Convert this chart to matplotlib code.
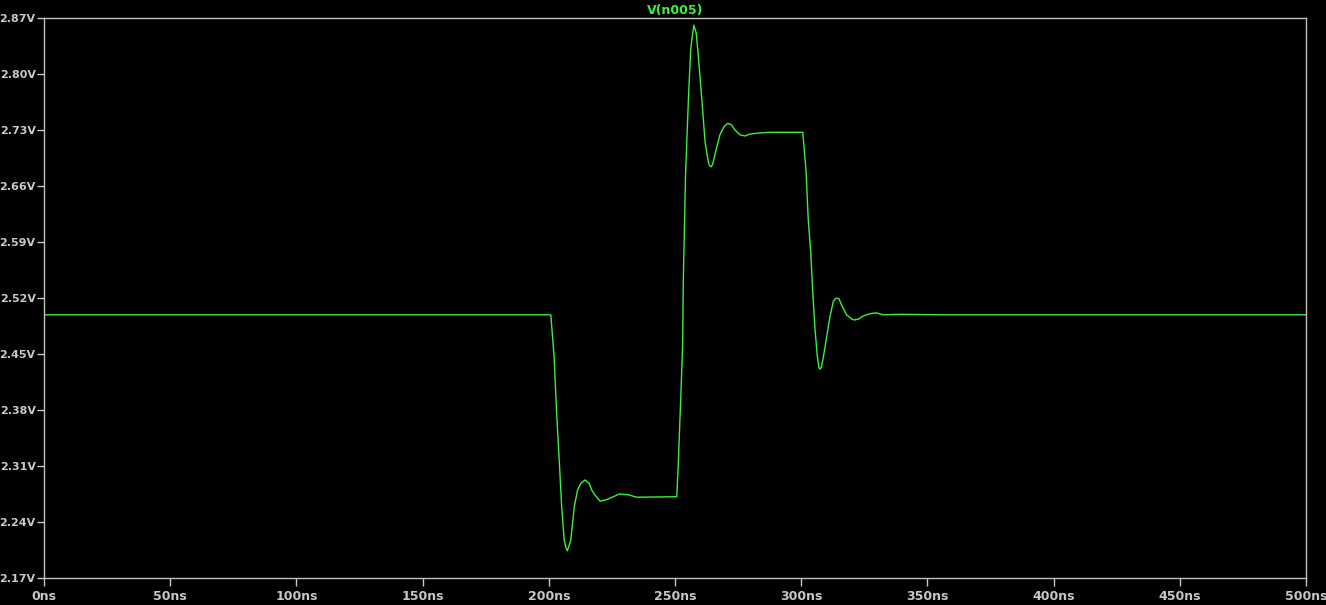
# Transient plot of node n005, redrawn in the LTspice waveform viewer look.
import matplotlib
matplotlib.use('Agg')
import matplotlib.pyplot as plt
import numpy as np

# time points (ns) and voltage (V)
time_ns = [0, 200.0, 200.8, 202.1, 203.1, 204.2, 205.1, 206.1, 206.7, 207.3,
           207.9, 208.7, 210.1, 211.4, 212.7, 214.3, 216.0, 217.0, 218.3, 220.3,
           222.3, 224.2, 226.2, 227.9, 231.5, 234.8, 250.7,
           251.3, 252.3, 253.0, 253.3, 253.8, 254.2, 255.3, 256.2, 257.0, 257.5,
           258.4, 259.2, 260.6, 261.9, 263.2, 263.6, 264.3, 264.9, 265.8, 267.8,
           269.4, 270.5, 271.4, 272.5, 273.8, 275.7, 277.8, 279.3,
           282.4, 287.6, 300.6, 301.9, 302.8, 303.8, 304.6, 305.5, 306.4, 307.0,
           307.4, 308.0, 308.8, 310.1, 311.4, 312.7, 313.6, 314.3, 315.0, 316.0,
           318.0, 320.3, 321.0, 322.9, 324.0, 326.0, 328.2, 329.9,
           332.5, 339.8, 357.0, 500]
v_n005 = [2.499, 2.499, 2.4988, 2.4466, 2.376, 2.313, 2.259, 2.2175, 2.209, 2.204,
          2.209, 2.2175, 2.259, 2.28, 2.2884, 2.2925, 2.2884, 2.28, 2.2738, 2.266,
          2.2675, 2.2696, 2.2725, 2.275, 2.274, 2.271, 2.2716,
          2.3134, 2.3966, 2.459, 2.5425, 2.6175, 2.676, 2.7675, 2.83, 2.851, 2.861,
          2.851, 2.824, 2.7696, 2.7154, 2.690, 2.686, 2.684, 2.687, 2.699, 2.724,
          2.734, 2.7375, 2.738, 2.736, 2.730, 2.724, 2.7225, 2.7246,
          2.726, 2.7271, 2.7271, 2.68, 2.6175, 2.576, 2.526, 2.48, 2.4466, 2.4334,
          2.431, 2.4334, 2.4466, 2.4716, 2.4966, 2.5154, 2.5196, 2.5196, 2.5188, 2.5113,
          2.4988, 2.4934, 2.4925, 2.4938, 2.4966, 2.4991, 2.5009, 2.5013,
          2.4991, 2.4996, 2.499, 2.499]

y_ticks = [2.17, 2.24, 2.31, 2.38, 2.45, 2.52, 2.59, 2.66, 2.73, 2.80, 2.87]
x_ticks = [0, 50, 100, 150, 200, 250, 300, 350, 400, 450, 500]


def plot_waveform(t, v, name):
    fig = plt.figure(figsize=(13.26, 6.05), dpi=100, facecolor='black')
    ax = fig.add_axes([44 / 1326, 1 - 578 / 605, 1262 / 1326, 560 / 605])
    ax.set_facecolor('black')
    ax.plot(t, v, color='#3cf03c', lw=1.0)

    ax.set_xlim(0, 500)
    ax.set_ylim(2.17, 2.87)
    ax.set_xticks(x_ticks)
    ax.set_xticklabels([str(x) + 'ns' for x in x_ticks])
    ax.set_yticks(y_ticks)
    ax.set_yticklabels(['%.2fV' % y for y in y_ticks])

    # grey frame, ticks outward like the spice viewer
    for s in ax.spines.values():
        s.set_color('#c0c0c0')
        s.set_linewidth(1.0)
    ax.tick_params(axis='x', colors='#c8c8c8', length=6, width=1, direction='out', pad=3, labelsize=9)
    ax.tick_params(axis='y', colors='#c8c8c8', length=5, width=1, direction='out', pad=1, labelsize=8)
    for lab in ax.get_xticklabels() + ax.get_yticklabels():
        lab.set_fontweight('bold')

    ax.set_title(name, color='#3cf03c', fontsize=9, fontweight='bold', pad=3)
    fig.savefig('out.png', dpi=100, facecolor='black')


plot_waveform(time_ns, v_n005, 'V(n005)')
